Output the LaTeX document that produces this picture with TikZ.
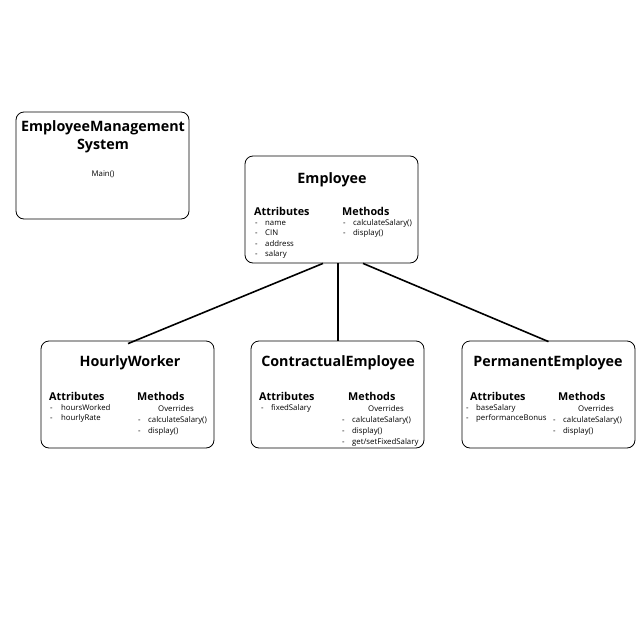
\documentclass[tikz,border=0pt]{standalone}
\usepackage{fontspec}
\setmainfont{Open Sans}
\begin{document}
\begin{tikzpicture}[x=1pt,y=-1pt,
  box/.style={draw,line width=0.8pt,rounded corners=8pt,minimum width=173pt,minimum height=107pt,inner sep=0pt},
  ttl/.style={font=\fontsize{14.3}{16}\selectfont\bfseries,anchor=center,inner sep=0pt},
  hd/.style={font=\fontsize{10.8}{12}\selectfont\bfseries,anchor=west,inner sep=0pt},
  it/.style={font=\fontsize{7.8}{9}\selectfont,anchor=base west,inner sep=0pt},
  conn/.style={line width=1.6pt}]
\useasboundingbox (0,0) rectangle (640,640);
% boxes
\node[box] (ems) at (102.5,165.5) {};
\node[box] (emp) at (331.5,209.5) {};
\node[box] (hw) at (127.5,394.5) {};
\node[box] (ce) at (337.5,394.5) {};
\node[box] (pe) at (548.5,394.5) {};
% EMS
\node[ttl] (emst1) at (103,128) {EmployeeManagement};
\node[ttl] (emst2) at (103,146) {System};
\node[font=\fontsize{7.8}{9}\selectfont,inner sep=0pt] (emsm) at (103,174) {Main()};
% Employee
\node[ttl] (empt) at (332,180) {Employee};
\node[hd] (empa) at (254,211) {Attributes};
\node[hd] (empm) at (342,211) {Methods};
\foreach \t [count=\i] in {name,CIN,address,salary}{
  \node[it] (empad\i) at (255,214.5+10.5*\i) {-};
  \node[it] (empai\i) at (265,214.5+10.5*\i) {\t};
}
\foreach \t [count=\i] in {calculateSalary(),display()}{
  \node[it] (empmd\i) at (343,214.5+10.5*\i) {-};
  \node[it] (empmi\i) at (353,214.5+10.5*\i) {\t};
}
% HourlyWorker
\node[ttl] (hwt) at (130,363) {HourlyWorker};
\node[hd] (hwa) at (49,396) {Attributes};
\node[hd] (hwm) at (137,396) {Methods};
\foreach \t [count=\i] in {hoursWorked,hourlyRate}{
  \node[it] (hwad\i) at (50,399.5+10.5*\i) {-};
  \node[it] (hwai\i) at (61,399.5+10.5*\i) {\t};
}
\node[it] (hwo) at (158,411) {Overrides};
\foreach \t [count=\i] in {calculateSalary(),display()}{
  \node[it] (hwmd\i) at (138,411+11*\i) {-};
  \node[it] (hwmi\i) at (148,411+11*\i) {\t};
}
% ContractualEmployee
\node[ttl] (cet) at (338,363) {ContractualEmployee};
\node[hd] (cea) at (259,396) {Attributes};
\node[hd] (cem) at (348,396) {Methods};
\node[it] (cead1) at (261,410) {-};
\node[it] (ceai1) at (271,410) {fixedSalary};
\node[it] (ceo) at (368,411) {Overrides};
\foreach \t [count=\i] in {calculateSalary(),display(),get/setFixedSalary}{
  \node[it] (cemd\i) at (342,411+11*\i) {-};
  \node[it] (cemi\i) at (352,411+11*\i) {\t};
}
% PermanentEmployee
\node[ttl] (pet) at (548,363) {PermanentEmployee};
\node[hd] (pea) at (470,396) {Attributes};
\node[hd] (pem) at (558,396) {Methods};
\foreach \t [count=\i] in {baseSalary,performanceBonus}{
  \node[it] (pead\i) at (466,399.5+10.5*\i) {-};
  \node[it] (peai\i) at (476,399.5+10.5*\i) {\t};
}
\node[it] (peo) at (578,411) {Overrides};
\foreach \t [count=\i] in {calculateSalary(),display()}{
  \node[it] (pemd\i) at (553,411+11*\i) {-};
  \node[it] (pemi\i) at (563,411+11*\i) {\t};
}
% connectors
\draw[conn] ([xshift=-8.5pt]emp.south) -- ([xshift=0.5pt,yshift=-3pt]hw.north);
\draw[conn] ([xshift=6.5pt]emp.south) -- ([xshift=0.5pt]ce.north);
\draw[conn] ([xshift=31.5pt]emp.south) -- ([yshift=-1pt]pe.north);
\end{tikzpicture}
\end{document}
